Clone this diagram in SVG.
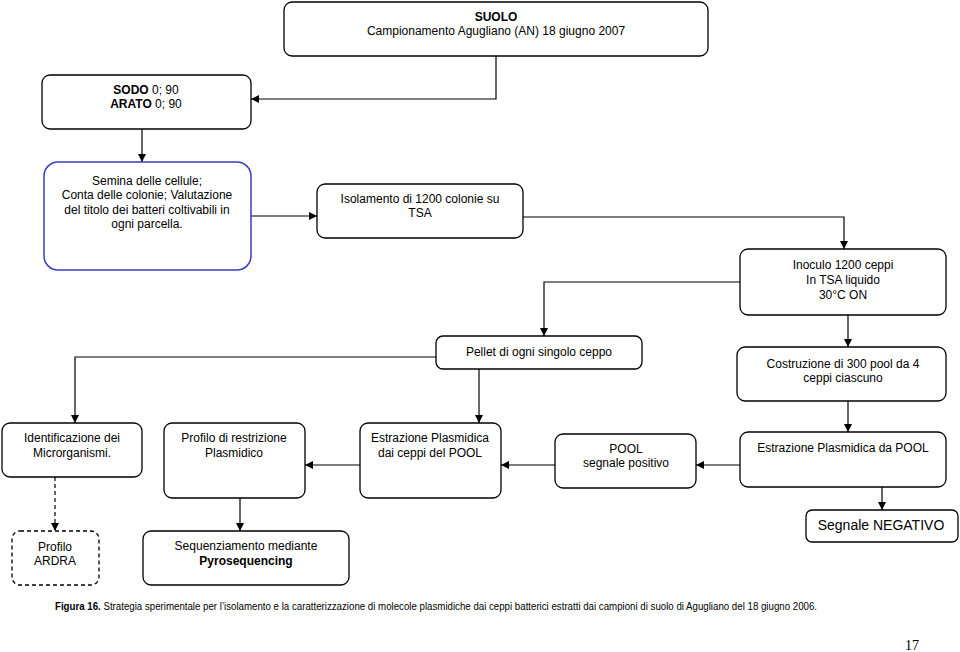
<svg xmlns="http://www.w3.org/2000/svg" width="960" height="652" viewBox="0 0 960 652">
<defs>
<marker id="ah" viewBox="0 0 10 10" refX="10" refY="5" markerWidth="9" markerHeight="8" markerUnits="userSpaceOnUse" orient="auto">
<path d="M0,0 L10,5 L0,10 z" fill="#000"/>
</marker>
<style>
.n rect{fill:#fff;stroke:#000;stroke-width:1.3}
.n text{font-family:"Liberation Sans",Arial,sans-serif;font-size:12px;fill:#000;text-anchor:middle}
.c path{fill:none;stroke:#000;stroke-width:1.2;marker-end:url(#ah)}
.b{font-weight:bold}
</style>
</defs>
<rect width="960" height="652" fill="#fff"/>
<g class="c">
<path d="M496,56 V99 H251"/>
<path d="M142,129 V162"/>
<path d="M251,216 H317"/>
<path d="M523,217 H844 V249"/>
<path d="M740,282 H544 V336"/>
<path d="M848,315 V347"/>
<path d="M436,357 H75 V423"/>
<path d="M479,369 V423"/>
<path d="M848,401 V432"/>
<path d="M740,465 H696"/>
<path d="M555,465 H501"/>
<path d="M360,465 H305"/>
<path d="M882,487 V510"/>
<path d="M240,498 V531"/>
<path d="M55,477 V531" stroke-dasharray="4,3"/>
</g>
<g id="suolo" class="n"><rect x="284" y="2" width="424" height="54" rx="8"/><text x="496" y="21" class="b">SUOLO</text><text x="496" y="35">Campionamento Agugliano (AN) 18 giugno 2007</text></g>
<g id="sodo" class="n"><rect x="42" y="75" width="209" height="54" rx="8"/><text x="146" y="94"><tspan class="b">SODO</tspan> 0; 90</text><text x="146" y="108"><tspan class="b">ARATO</tspan> 0; 90</text></g>
<g id="semina" class="n"><rect x="44" y="162" width="207" height="108" rx="14" style="stroke:#3c3cc0;stroke-width:1.5"/><text x="147" y="185">Semina delle cellule;</text><text x="147" y="199">Conta delle colonie; Valutazione</text><text x="147" y="214">del titolo dei batteri coltivabili in</text><text x="147" y="228">ogni parcella.</text></g>
<g id="isolamento" class="n"><rect x="317" y="184" width="206" height="54" rx="8"/><text x="420" y="203">Isolamento di 1200 colonie su</text><text x="420" y="217">TSA</text></g>
<g id="inoculo" class="n"><rect x="740" y="249" width="206" height="66" rx="8"/><text x="843" y="269">Inoculo 1200 ceppi</text><text x="843" y="284">In TSA liquido</text><text x="843" y="299">30°C ON</text></g>
<g id="pellet" class="n"><rect x="436" y="336" width="206" height="33" rx="7"/><text x="539" y="356">Pellet di ogni singolo ceppo</text></g>
<g id="costruzione" class="n"><rect x="737" y="347" width="209" height="54" rx="8"/><text x="843" y="368">Costruzione di 300 pool da 4</text><text x="843" y="382">ceppi ciascuno</text></g>
<g id="identificazione" class="n"><rect x="2" y="423" width="140" height="54" rx="8"/><text x="72" y="442">Identificazione dei</text><text x="72" y="457">Microrganismi.</text></g>
<g id="profilo" class="n"><rect x="164" y="423" width="141" height="75" rx="8"/><text x="234" y="442">Profilo di restrizione</text><text x="234" y="457">Plasmidico</text></g>
<g id="estrazione-ceppi" class="n"><rect x="360" y="423" width="141" height="75" rx="8"/><text x="430" y="442">Estrazione Plasmidica</text><text x="430" y="457">dai ceppi del POOL</text></g>
<g id="pool" class="n"><rect x="555" y="434" width="141" height="54" rx="8"/><text x="626" y="453">POOL</text><text x="626" y="467">segnale positivo</text></g>
<g id="estrazione-pool" class="n"><rect x="740" y="432" width="206" height="55" rx="8"/><text x="843" y="452">Estrazione Plasmidica da POOL</text></g>
<g id="negativo" class="n"><rect x="806" y="510" width="152" height="32" rx="6"/><text x="881" y="530" style="font-size:14px">Segnale NEGATIVO</text></g>
<g id="sequenziamento" class="n"><rect x="143" y="531" width="206" height="54" rx="8"/><text x="246" y="550">Sequenziamento mediante</text><text x="246" y="565" class="b">Pyrosequencing</text></g>
<g id="ardra" class="n"><rect x="12" y="531" width="87" height="54" rx="8" stroke-dasharray="4,3"/><text x="55" y="551">Profilo</text><text x="55" y="565">ARDRA</text></g>
<text x="55" y="610" font-family="'Liberation Sans',Arial,sans-serif" font-size="10" textLength="762" lengthAdjust="spacingAndGlyphs"><tspan font-weight="bold">Figura 16.</tspan>  Strategia sperimentale per l’isolamento e la caratterizzazione di molecole plasmidiche dai ceppi batterici estratti dai campioni di suolo di Agugliano del 18 giugno 2006.</text>
<text x="905" y="650" font-family="'Liberation Serif','Times New Roman',serif" font-size="14">17</text>
</svg>
